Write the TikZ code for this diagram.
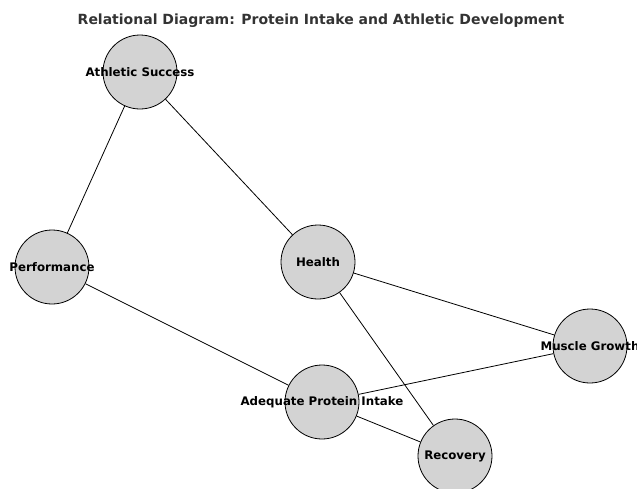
\documentclass[tikz,border=0pt]{standalone}
\usepackage{fontspec}
\setmainfont{DejaVu Sans}
\begin{document}
\begin{tikzpicture}[x=1pt,y=-1pt,
  ent/.style={circle,draw=black,fill={rgb,255:red,211;green,211;blue,211},minimum size=74pt,inner sep=0pt,line width=0.8pt},
  lbl/.style={font=\fontsize{11.8}{13}\selectfont\bfseries,text=black},
  link/.style={draw=black,line width=0.8pt}]
\useasboundingbox (0,0) rectangle (637,488);
\node[ent] (as) at (140,72) {};
\node[ent] (pf) at (52,267) {};
\node[ent] (hl) at (318,262) {};
\node[ent] (mg) at (590,346) {};
\node[ent] (ap) at (322,402) {};
\node[ent] (rc) at (455,456) {};
\draw[link] (as) -- (pf);
\draw[link] (as) -- (hl);
\draw[link] (hl) -- (mg);
\draw[link] (hl) -- (rc);
\draw[link] (pf) -- (ap);
\draw[link] (ap) -- (mg);
\draw[link] (ap) -- (rc);
\node[lbl] at (as) {Athletic Success};
\node[lbl] at (pf) {Performance};
\node[lbl] at (hl) {Health};
\node[lbl] at (mg) {Muscle Growth};
\node[lbl] at (ap) {Adequate Protein Intake};
\node[lbl] at (rc) {Recovery};
\node[font=\fontsize{14}{17}\selectfont\bfseries,text={rgb,255:red,51;green,51;blue,51}] (title) at (321,20.5) {Relational Diagram: Protein Intake and Athletic Development};
\end{tikzpicture}
\end{document}
